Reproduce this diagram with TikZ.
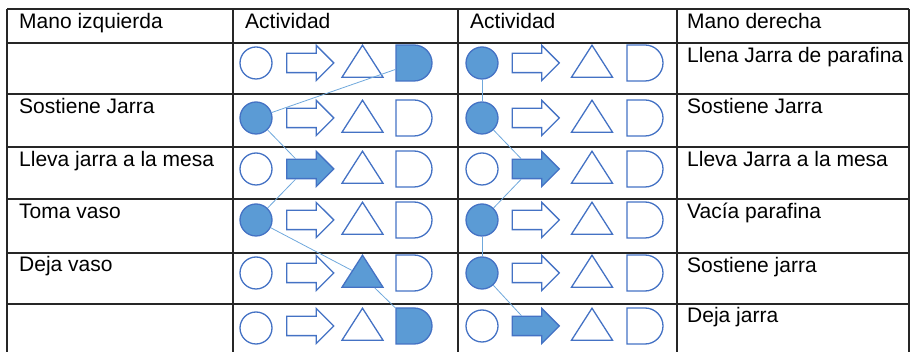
\documentclass[tikz,border=0pt]{standalone}
\usepackage{fontspec}
\setmainfont{Liberation Sans}
\usetikzlibrary{shapes.geometric,shapes.arrows,shapes.misc}
\definecolor{symline}{HTML}{4472C4}
\definecolor{symfill}{HTML}{5B9BD5}
\definecolor{linkline}{HTML}{6FA8DC}
\definecolor{gridline}{HTML}{262626}

\begin{document}
\begin{tikzpicture}
[
x=1pt,y=-1pt,
every node/.style={inner sep=0pt},
cell/.style={anchor=base west,font=\fontsize{21}{25}\selectfont},
sym/.style={draw=symline,line width=1.3pt},
busy/.style={fill=symfill},
opcircle/.style={sym,circle,minimum size=32pt},
oparrow/.style={sym,single arrow,inner xsep=0pt,inner ysep=9pt,minimum height=47pt,single arrow head extend=8pt,xshift=-4pt},
optriangle/.style={sym,isosceles triangle,isosceles triangle stretches,shape border rotate=90,minimum width=41pt,minimum height=32pt,yshift=-3pt},
opdelay/.style={sym,rounded rectangle,rounded rectangle left arc=none,minimum width=34pt,minimum height=36pt},
link/.style={draw=linkline,line width=0.8pt},
grid/.style={draw=gridline,line width=1.3pt},
]
\useasboundingbox (0,0) rectangle (911,352);

%The table
\draw[grid] (7,9) -- (909,9);
\draw[grid] (7,43) -- (909,43);
\draw[grid] (7,94) -- (909,94);
\draw[grid] (7,147) -- (909,147);
\draw[grid] (7,199) -- (909,199);
\draw[grid] (7,253) -- (909,253);
\draw[grid] (7,304) -- (909,304);
\draw[grid] (7,9) -- (7,352);
\draw[grid] (233,9) -- (233,352);
\draw[grid] (458,9) -- (458,352);
\draw[grid] (677,9) -- (677,352);
\draw[grid] (909,9) -- (909,352);

%Headers
\node[cell] (hleft) at (19,29) {Mano izquierda};
\node[cell] (hactl) at (245,29) {Actividad};
\node[cell] (hactr) at (470,29) {Actividad};
\node[cell] (hright) at (687,29) {Mano derecha};

%Left hand
\node[cell] (left2) at (19,114) {Sostiene Jarra};
\node[cell] (left3) at (19,167) {Lleva jarra a la mesa};
\node[cell] (left4) at (19,219) {Toma vaso};
\node[cell] (left5) at (19,272) {Deja vaso};

%Right hand
\node[cell] (right1) at (687,63) {Llena Jarra de parafina};
\node[cell] (right2) at (687,114) {Sostiene Jarra};
\node[cell] (right3) at (687,167) {Lleva Jarra a la mesa};
\node[cell] (right4) at (687,219) {Vacía parafina};
\node[cell] (right5) at (687,273) {Sostiene jarra};
\node[cell] (right6) at (687,323) {Deja jarra};

%Left activity symbols
\node[opcircle] (lc1) at (256,63) {};
\node[oparrow] (la1) at (309.5,63) {};
\node[optriangle] (lt1) at (362.5,63) {};
\node[opdelay,busy] (ld1) at (414,63) {};
\node[opcircle,busy] (lc2) at (256,118) {};
\node[oparrow] (la2) at (309.5,118) {};
\node[optriangle] (lt2) at (362.5,118) {};
\node[opdelay] (ld2) at (414,118) {};
\node[opcircle] (lc3) at (256,169) {};
\node[oparrow,busy] (la3) at (309.5,169) {};
\node[optriangle] (lt3) at (362.5,169) {};
\node[opdelay] (ld3) at (414,169) {};
\node[opcircle,busy] (lc4) at (256,220) {};
\node[oparrow] (la4) at (309.5,220) {};
\node[optriangle] (lt4) at (362.5,220) {};
\node[opdelay] (ld4) at (414,220) {};
\node[opcircle] (lc5) at (256,273) {};
\node[oparrow] (la5) at (309.5,273) {};
\node[optriangle,busy] (lt5) at (362.5,273) {};
\node[opdelay] (ld5) at (414,273) {};
\node[opcircle] (lc6) at (256,328) {};
\node[oparrow] (la6) at (309.5,326) {};
\node[optriangle] (lt6) at (362.5,326) {};
\node[opdelay,busy] (ld6) at (414,326) {};

%Right activity symbols
\node[opcircle,busy] (rc1) at (482,63) {};
\node[oparrow] (ra1) at (535,63) {};
\node[optriangle] (rt1) at (592,63) {};
\node[opdelay] (rd1) at (645,63) {};
\node[opcircle,busy] (rc2) at (482,118) {};
\node[oparrow] (ra2) at (535,118) {};
\node[optriangle] (rt2) at (592,118) {};
\node[opdelay] (rd2) at (645,118) {};
\node[opcircle] (rc3) at (482,169) {};
\node[oparrow,busy] (ra3) at (535,169) {};
\node[optriangle] (rt3) at (592,169) {};
\node[opdelay] (rd3) at (645,169) {};
\node[opcircle,busy] (rc4) at (482,220) {};
\node[oparrow] (ra4) at (535,220) {};
\node[optriangle] (rt4) at (592,220) {};
\node[opdelay] (rd4) at (645,220) {};
\node[opcircle,busy] (rc5) at (482,273) {};
\node[oparrow] (ra5) at (535,273) {};
\node[optriangle] (rt5) at (592,273) {};
\node[opdelay] (rd5) at (645,273) {};
\node[opcircle] (rc6) at (482,326) {};
\node[oparrow,busy] (ra6) at (535,326) {};
\node[optriangle] (rt6) at (592,326) {};
\node[opdelay] (rd6) at (645,326) {};

%Draw the connections
\draw[link] (ld1) -- (lc2);
\draw[link] (lc2) -- (la3);
\draw[link] (la3) -- (lc4);
\draw[link] (lc4) -- (lt5);
\draw[link] (lt5) -- (ld6);
\draw[link] (rc1) -- (rc2);
\draw[link] (rc2) -- (ra3);
\draw[link] (ra3) -- (rc4);
\draw[link] (rc4) -- (rc5);
\draw[link] (rc5) -- (ra6);
\end{tikzpicture}
\end{document}
